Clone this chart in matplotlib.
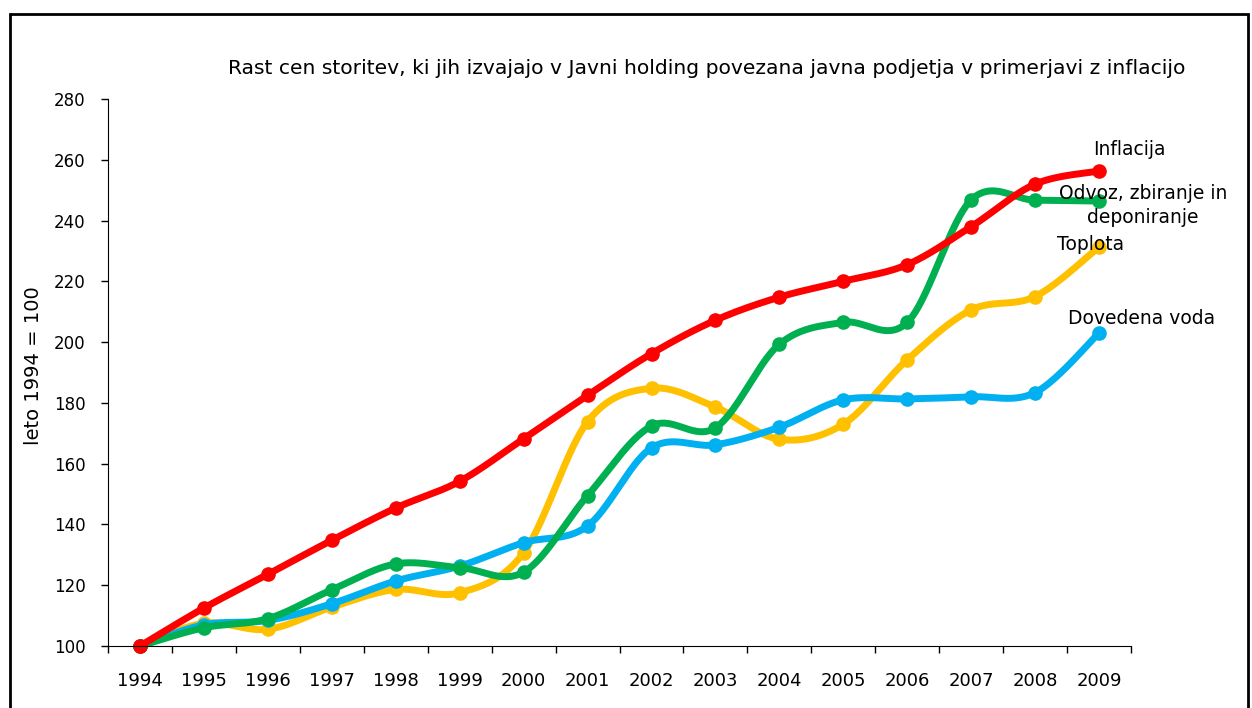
import numpy as np
import matplotlib.pyplot as plt
from matplotlib.patches import Rectangle

years = [str(y) for y in range(1994, 2010)]
inflacija = [100, 112.5, 123.6, 134.8, 145.4, 154.2, 168.2, 182.5, 196.2, 207.2, 214.8, 220.0, 225.5, 238.0, 252.0, 256.3]
odvoz = [100, 106.0, 109.0, 118.5, 127.0, 125.8, 124.3, 149.5, 172.4, 171.8, 199.3, 206.5, 206.5, 246.8, 246.7, 246.4]
toplota = [100, 107.5, 105.5, 112.8, 118.6, 117.5, 130.7, 173.8, 184.8, 178.6, 168.0, 173.0, 194.2, 210.6, 215.0, 231.3]
voda = [100, 107.0, 108.4, 113.9, 121.4, 126.3, 134.0, 139.5, 165.2, 166.2, 172.0, 181.0, 181.3, 182.0, 183.4, 203.0]

title = "Rast cen storitev, ki jih izvajajo v Javni holding povezana javna podjetja v primerjavi z inflacijo"


def smooth(x, y, n=40):
    # catmull-rom style bezier, like excel smoothed lines
    p = np.column_stack([x, y]).astype(float)
    pts = np.vstack([p[0], p, p[-1]])
    t = np.linspace(0, 1, n)[:, None]
    out = []
    for i in range(1, len(pts) - 2):
        p0, p1, p2, p3 = pts[i - 1], pts[i], pts[i + 1], pts[i + 2]
        c1 = p1 + (p2 - p0) / 6
        c2 = p2 - (p3 - p1) / 6
        seg = (1 - t) ** 3 * p1 + 3 * (1 - t) ** 2 * t * c1 + 3 * (1 - t) * t ** 2 * c2 + t ** 3 * p2
        out.append(seg)
    out = np.vstack(out)
    return out[:, 0], out[:, 1]


fig = plt.figure(figsize=(12.52, 7.08), dpi=100)
ax = fig.add_axes([0.0863, 0.0876, 0.8171, 0.7726])

xs = np.arange(len(years))
series = [
    (toplota, "#FFC000"),
    (voda, "#00B0F0"),
    (odvoz, "#00B050"),
    (inflacija, "#FF0000"),
]
for vals, col in series:
    sx, sy = smooth(xs, vals)
    ax.plot(sx, sy, color=col, lw=5, solid_capstyle="round", clip_on=False)
    ax.plot(xs, vals, "o", color=col, ms=9.5, clip_on=False)

ax.set_xlim(-0.5, 15.5)
ax.set_ylim(100, 280)
ax.set_yticks(np.arange(100, 281, 20))
ax.set_xticks(np.arange(-0.5, 16, 1))
ax.set_xticklabels([])
ax.set_xticks(xs, minor=True)
ax.set_xticklabels(years, minor=True)
ax.tick_params(axis="x", which="major", direction="out", length=5, width=1)
ax.tick_params(axis="x", which="minor", length=0, pad=19, labelsize=13)
ax.tick_params(axis="y", direction="out", length=5, width=1, pad=11, labelsize=12)
for s in ["top", "right"]:
    ax.spines[s].set_visible(False)
ax.set_ylabel("leto 1994 = 100", fontsize=14)
ax.yaxis.label.set_va("center")
ax.yaxis.set_label_coords(-0.0733, 0.512)

lab = dict(fontsize=13.5, ha="center", va="center", clip_on=False)
ax.text(15.48, 263.5, "Inflacija", **lab)
ax.text(15.69, 244.9, "Odvoz, zbiranje in\ndeponiranje", linespacing=1.3, **lab)
ax.text(14.87, 232.0, "Toplota", **lab)
ax.text(15.66, 207.9, "Dovedena voda", **lab)

fig.text(707 / 1252, 1 - 68 / 708, title, fontsize=14.6, ha="center", va="center")

fig.patches.append(Rectangle((10 / 1252, -0.05), 1238 / 1252, 1.05 - 14 / 708,
                             transform=fig.transFigure, fill=False, lw=2, ec="black"))

fig.savefig("out.png", dpi=100)
